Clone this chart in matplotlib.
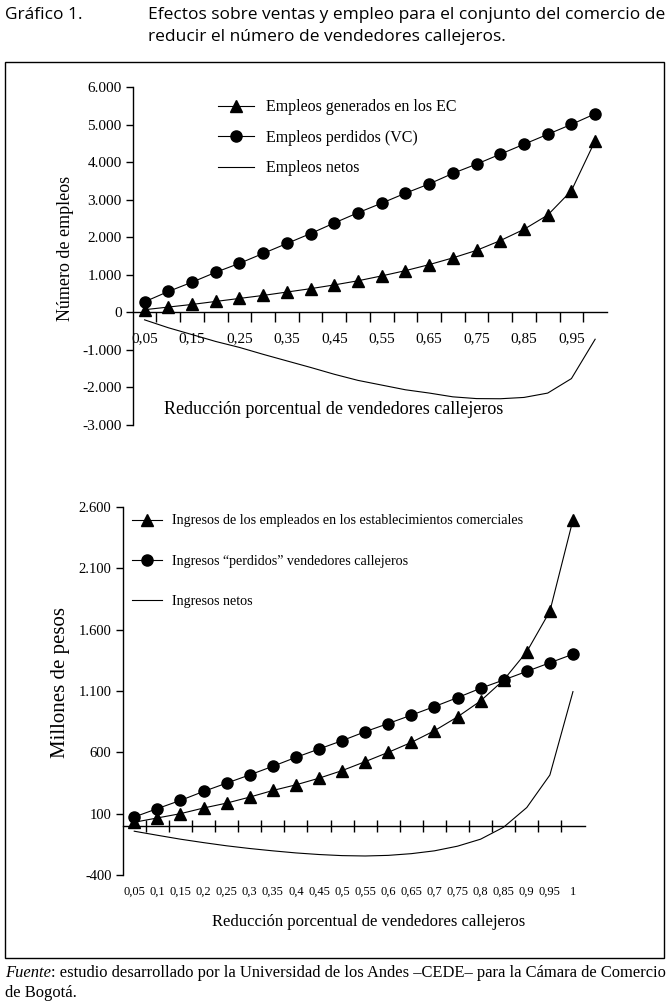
import matplotlib
matplotlib.use("Agg")
import matplotlib.pyplot as plt
from matplotlib.patches import Rectangle
import numpy as np

# ---------------- data ----------------
categories = ["0,05", "0,1", "0,15", "0,2", "0,25", "0,3", "0,35", "0,4", "0,45", "0,5",
              "0,55", "0,6", "0,65", "0,7", "0,75", "0,8", "0,85", "0,9", "0,95", "1"]
top_xlabels = ["0,05", "0,15", "0,25", "0,35", "0,45", "0,55", "0,65", "0,75", "0,85", "0,95"]

empleos_ec = [70, 140, 210, 290, 370, 450, 540, 630, 730, 840,
              970, 1110, 1270, 1450, 1650, 1910, 2210, 2590, 3240, 4570]
empleos_vc = [280, 555, 802, 1066, 1304, 1568, 1833, 2097, 2379, 2652,
              2907, 3172, 3419, 3700, 3947, 4211, 4476, 4740, 5004, 5286]
empleos_netos = [-200, -410, -592, -776, -934, -1118, -1293, -1467, -1649, -1812,
                 -1937, -2062, -2149, -2250, -2297, -2301, -2266, -2150, -1764, -716]

ingresos_ec = [30, 65, 100, 146, 186, 235, 289, 335, 389, 451,
               524, 600, 681, 776, 889, 1019, 1190, 1420, 1750, 2495]
ingresos_vc = [73, 141, 208, 281, 349, 416, 486, 559, 627, 695,
               768, 835, 903, 973, 1046, 1122, 1190, 1260, 1330, 1400]
ingresos_netos = [-43, -76, -108, -136, -162, -184, -203, -220, -233, -242,
                  -245, -240, -226, -203, -165, -108, -10, 150, 415, 1095]

top_yticks = [-3000, -2000, -1000, 0, 1000, 2000, 3000, 4000, 5000, 6000]
top_yticklabels = ["-3.000", "-2.000", "-1.000", "0", "1.000", "2.000", "3.000", "4.000", "5.000", "6.000"]
bot_yticks = [-400, 100, 600, 1100, 1600, 2100, 2600]
bot_yticklabels = ["-400", "100", "600", "1.100", "1.600", "2.100", "2.600"]

top_labels = ["Empleos generados en los EC", "Empleos perdidos (VC)", "Empleos netos"]
bot_labels = ["Ingresos de los empleados en los establecimientos comerciales",
              "Ingresos \u201cperdidos\u201d vendedores callejeros", "Ingresos netos"]

# ---------------- figure ----------------
W, H = 671, 1008
fig = plt.figure(figsize=(W / 100, H / 100), dpi=100)
fig.patch.set_facecolor("white")

serif = "Liberation Serif"
plt.rcParams["font.family"] = serif


def fx(px):
    return px / W


def fy(py):
    return 1 - py / H


# header
hdr = dict(family="Open Sans", fontsize=12.5, va="center", ha="left")
fig.text(fx(5), fy(15), "Gráfico 1.", **hdr)
fig.text(fx(148), fy(15), "Efectos sobre ventas y empleo para el conjunto del comercio de", **hdr)
fig.text(fx(148), fy(37), "reducir el número de vendedores callejeros.", **hdr)

# frame
fig.patches.append(Rectangle((fx(5), fy(958)), fx(664) - fx(5), fy(62) - fy(958),
                             transform=fig.transFigure, fill=False, lw=1.0, ec="black"))

# footer
fts = 11.9
t_f = fig.text(fx(5), fy(973), "Fuente", family=serif, style="italic", fontsize=fts, va="center", ha="left")
fig.canvas.draw()
bb = t_f.get_window_extent(renderer=fig.canvas.get_renderer())
fig.text(bb.x1 / W, fy(973), ": estudio desarrollado por la Universidad de los Andes \u2013CEDE\u2013 para la Cámara de Comercio",
         family=serif, fontsize=fts, va="center", ha="left")
fig.text(fx(5), fy(993), "de Bogotá.", family=serif, fontsize=fts, va="center", ha="left")

x = np.arange(len(categories))
line_kw = dict(color="black", lw=0.8)


def style_axes(ax, ylo, yhi, yticks, yticklabels, yfs):
    ax.set_xlim(-0.5, len(categories) - 0.5)
    ax.set_ylim(ylo, yhi)
    for s in ["top", "right"]:
        ax.spines[s].set_visible(False)
    ax.spines["bottom"].set_position(("data", 0))
    ax.spines["left"].set_linewidth(1.0)
    ax.spines["bottom"].set_linewidth(1.0)
    ax.set_yticks(yticks)
    ax.set_yticklabels(yticklabels, fontsize=yfs, family=serif)
    ax.tick_params(axis="y", direction="out", length=5, width=1, pad=3)
    ax.set_xticks(x[:-1] + 0.5)
    ax.set_xticklabels([])


# ---------------- top chart ----------------
ax1 = fig.add_axes([fx(132.7), fy(425), fx(607) - fx(132.7), fy(87) - fy(425)])
style_axes(ax1, -3000, 6000, top_yticks, top_yticklabels, 11)
ax1.tick_params(axis="x", which="major", direction="out", length=7, width=1)
ax1.set_xticks(x[::2], minor=True)
ax1.set_xticklabels(top_xlabels, minor=True, fontsize=11, family=serif)
ax1.tick_params(axis="x", which="minor", length=0, pad=14)

h1, = ax1.plot(x, empleos_ec, marker="^", ms=9, mfc="black", mec="black", **line_kw)
h2, = ax1.plot(x, empleos_vc, marker="o", ms=8, mfc="black", mec="black", **line_kw)
h3, = ax1.plot(x, empleos_netos, color="black", lw=0.8)
leg1 = ax1.legend([h1, h2, h3], top_labels, loc="upper left",
                  bbox_to_anchor=((212 - 132.7) / (607 - 132.7), 0.982),
                  frameon=False, prop={"family": serif, "size": 11.5},
                  handlelength=2.2, handletextpad=0.75, labelspacing=0.9, borderaxespad=0)
ax1.text((334 - 132.7) / (607 - 132.7), (425 - 410) / (425 - 87),
         "Reducción porcentual de vendedores callejeros", transform=ax1.transAxes,
         ha="center", va="center", fontsize=13, family=serif)
fig.text(fx(65), fy(248), "Número de empleos", rotation=90, ha="center", va="center",
         fontsize=13, family=serif)

# ---------------- bottom chart ----------------
ax2 = fig.add_axes([fx(122.7), fy(875), fx(584.5) - fx(122.7), fy(507) - fy(875)])
style_axes(ax2, -400, 2600, bot_yticks, bot_yticklabels, 10.5)
ax2.tick_params(axis="x", which="major", direction="inout", length=9, width=1)
sec = ax2.secondary_xaxis(0.0)
sec.set_xticks(x)
sec.set_xticklabels(categories, fontsize=9, family=serif)
sec.tick_params(length=0, pad=8)
sec.spines["bottom"].set_visible(False)

g1, = ax2.plot(x, ingresos_ec, marker="^", ms=9, mfc="black", mec="black", **line_kw)
g2, = ax2.plot(x, ingresos_vc, marker="o", ms=8, mfc="black", mec="black", **line_kw)
g3, = ax2.plot(x, ingresos_netos, color="black", lw=0.8)
leg2 = ax2.legend([g1, g2, g3], bot_labels, loc="upper left",
                  bbox_to_anchor=((126 - 122.7) / (584.5 - 122.7), 0.995),
                  frameon=False, prop={"family": serif, "size": 10.1},
                  handlelength=2.2, handletextpad=0.7, labelspacing=1.95, borderaxespad=0)
fig.text(fx(369), fy(922), "Reducción porcentual de vendedores callejeros", ha="center", va="center",
         fontsize=12, family=serif)
fig.text(fx(60), fy(683), "Millones de pesos", rotation=90, ha="center", va="center",
         fontsize=15, family=serif)

fig.savefig("out.png", dpi=100)
